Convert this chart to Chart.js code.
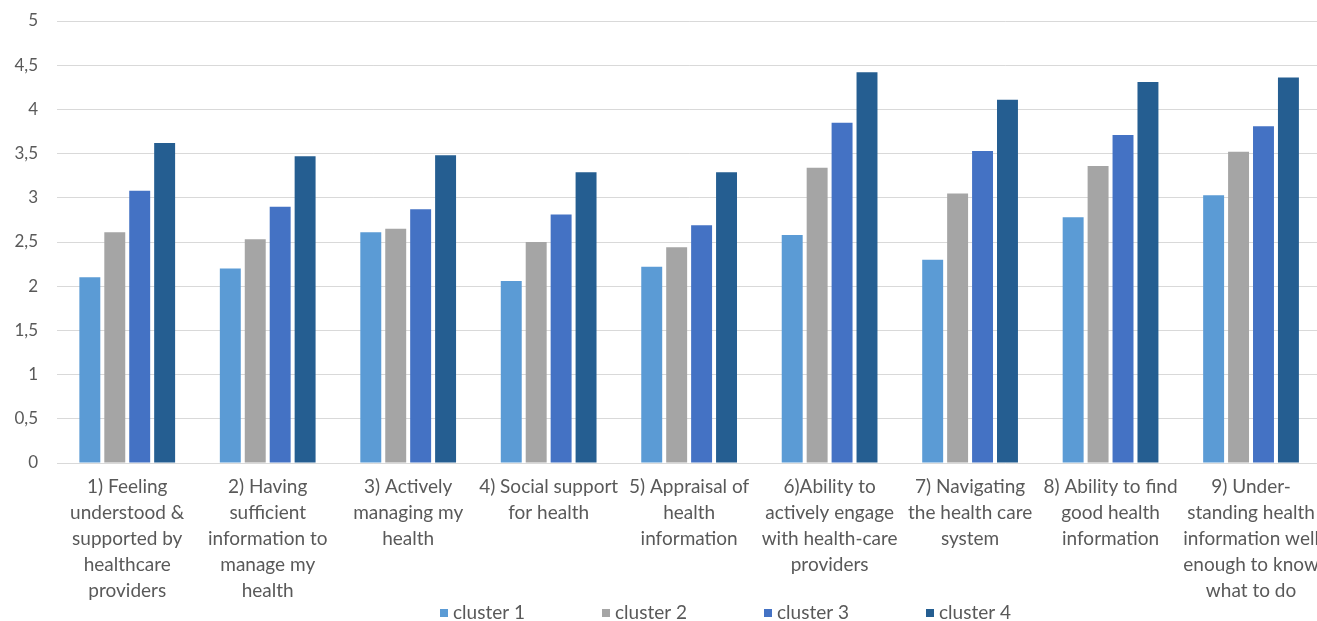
<!DOCTYPE html>
<html>
<head>
<meta charset="utf-8">
<script src="https://cdn.jsdelivr.net/npm/chart.js@4.4.1/dist/chart.umd.min.js"></script>
<style>
  html, body { margin: 0; padding: 0; background: #fff; overflow: hidden; }
  #wrap { width: 1330px; height: 621px; }
</style>
</head>
<body>
<div id="wrap"><canvas id="chart" width="1330" height="621"></canvas></div>
<script>
"use strict";

var categories = [
    ["1) Feeling", "understood &", "supported by", "healthcare", "providers"],
    ["2) Having", "sufficient", "information to", "manage my", "health"],
    ["3) Actively", "managing my", "health"],
    ["4) Social support", "for health"],
    ["5) Appraisal of", "health", "information"],
    ["6)Ability to", "actively engage", "with health-care", "providers"],
    ["7) Navigating", "the health care", "system"],
    ["8) Ability to find", "good health", "information"],
    ["9) Under-", "standing health", "information well", "enough to know", "what to do"]
];
var seriesNames = ["cluster 1", "cluster 2", "cluster 3", "cluster 4"];
var cluster1 = [2.10, 2.20, 2.61, 2.06, 2.22, 2.58, 2.30, 2.78, 3.03];
var cluster2 = [2.61, 2.53, 2.65, 2.50, 2.44, 3.34, 3.05, 3.36, 3.52];
var cluster3 = [3.08, 2.90, 2.87, 2.81, 2.69, 3.85, 3.53, 3.71, 3.81];
var cluster4 = [3.62, 3.47, 3.48, 3.29, 3.29, 4.42, 4.11, 4.31, 4.36];
var yTicks = [0, 0.5, 1, 1.5, 2, 2.5, 3, 3.5, 4, 4.5, 5];

var colors = ["#5B9BD5", "#A5A5A5", "#4472C4", "#255E91"];
var textColor = "#595959";
var fontFamily = "Lato, 'Open Sans', sans-serif";

// legend drawn under the axis labels, spaced like the original
var bottomLegend = {
    id: "bottomLegend",
    afterDraw: function (chart) {
        var ctx = chart.ctx;
        var x = 440, y = 613;
        ctx.save();
        ctx.font = "19px " + fontFamily;
        ctx.textBaseline = "middle";
        ctx.textAlign = "left";
        chart.data.datasets.forEach(function (ds) {
            ctx.fillStyle = ds.backgroundColor;
            ctx.fillRect(x, y - 4, 8, 8);
            ctx.fillStyle = textColor;
            ctx.fillText(ds.label, x + 13, y);
            x += 162;
        });
        ctx.restore();
    }
};

var series = [cluster1, cluster2, cluster3, cluster4];

new Chart(document.getElementById("chart"), {
    type: "bar",
    data: {
        labels: categories,
        datasets: series.map(function (values, i) {
            return {
                label: seriesNames[i],
                data: values,
                backgroundColor: colors[i],
                categoryPercentage: 0.71,
                barPercentage: 0.84
            };
        })
    },
    options: {
        responsive: false,
        animation: false,
        layout: { padding: { top: 21, left: 12, right: 2, bottom: 19 } },
        plugins: {
            legend: { display: false },
            tooltip: { enabled: false }
        },
        scales: {
            x: {
                grid: { display: false, drawTicks: false },
                border: { display: false },
                ticks: {
                    color: textColor,
                    font: { family: fontFamily, size: 19, lineHeight: "26px" },
                    padding: 11,
                    maxRotation: 0,
                    autoSkip: false
                },
                afterFit: function (scale) {
                    scale.height = 139;
                    scale.paddingTop = 0;
                }
            },
            y: {
                min: 0,
                max: 5,
                grid: { color: "#D9D9D9", lineWidth: 1, drawTicks: false },
                border: { display: false },
                afterBuildTicks: function (scale) {
                    scale.ticks = yTicks.map(function (v) { return { value: v }; });
                },
                ticks: {
                    color: textColor,
                    font: { family: fontFamily, size: 17 },
                    padding: 19,
                    callback: function (v) { return String(v).replace(".", ","); }
                },
                afterFit: function (scale) {
                    scale.width = 45;
                    scale.paddingTop = 0;
                    scale.paddingBottom = 0;
                }
            }
        }
    },
    plugins: [bottomLegend]
});
</script>
</body>
</html>
